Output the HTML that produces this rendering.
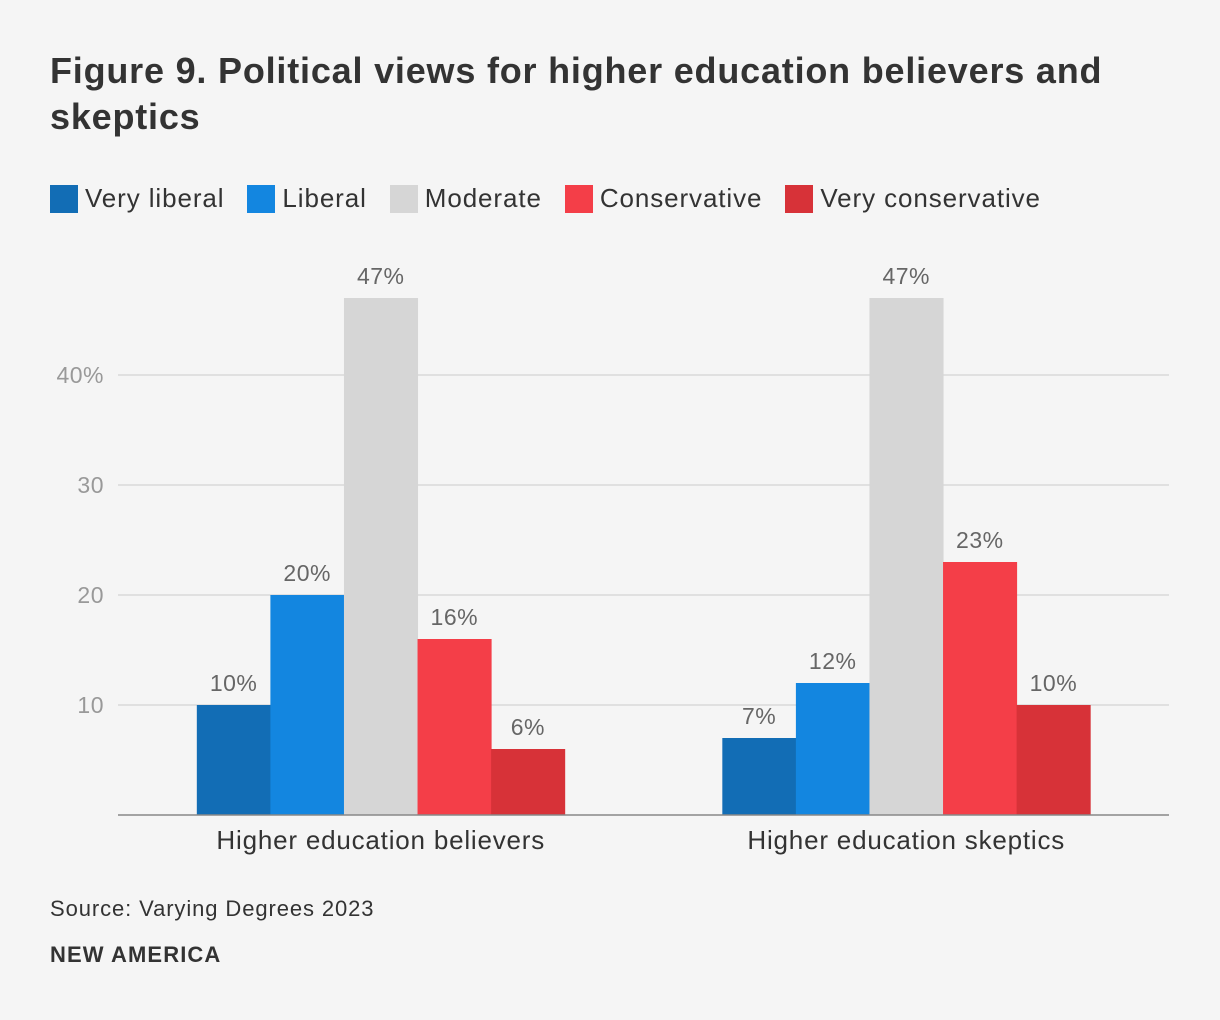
<!DOCTYPE html>
<html><head><meta charset="utf-8"><style>
body{margin:0;background:#f5f5f5;font-family:"Liberation Sans",sans-serif;color:#333}
#wrap{position:relative;width:1220px;height:1020px;overflow:hidden}
h1{position:absolute;left:50px;top:48px;margin:0;font-size:36px;line-height:46px;font-weight:bold;color:#333;width:1100px;letter-spacing:0.8px}
.legend{position:absolute;left:50px;top:183px;font-size:26px;display:flex;gap:0;letter-spacing:0.9px}
.li{display:flex;align-items:center;margin-right:23px}
.sw{width:28px;height:28px;margin-right:7px}
.src{position:absolute;left:50px;top:896px;font-size:22px;letter-spacing:0.9px}
.brand{position:absolute;left:50px;top:942px;font-size:22px;font-weight:bold;letter-spacing:1.1px}
</style></head><body>
<div id="wrap">
<h1>Figure 9. Political views for higher education believers and skeptics</h1>
<div class="legend" id="legend"></div>
<svg id="chart" width="1220" height="1020" style="position:absolute;left:0;top:0"></svg>
<div class="src">Source: Varying Degrees 2023</div>
<div class="brand">NEW AMERICA</div>
</div>
<script>
const categories=["Higher education believers","Higher education skeptics"];
const seriesNames=["Very liberal","Liberal","Moderate","Conservative","Very conservative"];
const veryLiberal=[10,7];
const liberal=[20,12];
const moderate=[47,47];
const conservative=[16,23];
const veryConservative=[6,10];
const yTicks=[10,20,30,40];
const yTickLabels=["10","20","30","40%"];
const series=[veryLiberal,liberal,moderate,conservative,veryConservative];
const colors=["#126db5","#1386e0","#d6d6d6","#f43e48","#d73238"];
const NS="http://www.w3.org/2000/svg";
const svg=document.getElementById('chart');
const x0=118,x1=1169,y0=815,pxPer=11;
const y=v=>y0-v*pxPer;
const band=(x1-x0)/categories.length;
const barW=band*0.7/series.length;
function mk(t,a){const e=document.createElementNS(NS,t);for(const k in a)e.setAttribute(k,a[k]);svg.appendChild(e);return e;}
yTicks.forEach((t,i)=>{
 const l=mk('line',{x1:x0,x2:x1,y1:y(t),y2:y(t),stroke:'#d9d9d9','stroke-width':1.5});
 
 
 const tx=mk('text',{x:104,y:y(t)+8,'text-anchor':'end','font-size':23,fill:'#999','letter-spacing':'0.5','font-family':'Liberation Sans, sans-serif'});
 tx.textContent=yTickLabels[i];
 
 
});
categories.forEach((c,ci)=>{
 const cx=x0+band*(ci+0.5);
 const start=cx-barW*series.length/2;
 series.forEach((s,si)=>{
  const v=s[ci];
  const r=mk('rect',{x:start+si*barW,y:y(v),width:barW+0.5,height:v*pxPer,fill:colors[si]});
  
  
  const t=mk('text',{x:start+si*barW+barW/2,y:y(v)-14,'text-anchor':'middle','font-size':23,fill:'#666','letter-spacing':'0.5','font-family':'Liberation Sans, sans-serif'});
  t.textContent=v+'%';
  
  
 });
 const t=mk('text',{x:cx,y:849,'text-anchor':'middle','font-size':26,fill:'#333','letter-spacing':'0.8','font-family':'Liberation Sans, sans-serif'});
 t.textContent=c;
 
 
});
const ax=mk('line',{x1:x0,x2:x1,y1:y0,y2:y0,stroke:'#888','stroke-width':1.5});


const lg=document.getElementById('legend');
seriesNames.forEach((n,i)=>{
 const d=document.createElement('div');d.className='li';
 
 
 d.innerHTML='<span class="sw" style="background:'+colors[i]+'"></span><span>'+n+'</span>';
 lg.appendChild(d);
});
</script>
</body></html>
